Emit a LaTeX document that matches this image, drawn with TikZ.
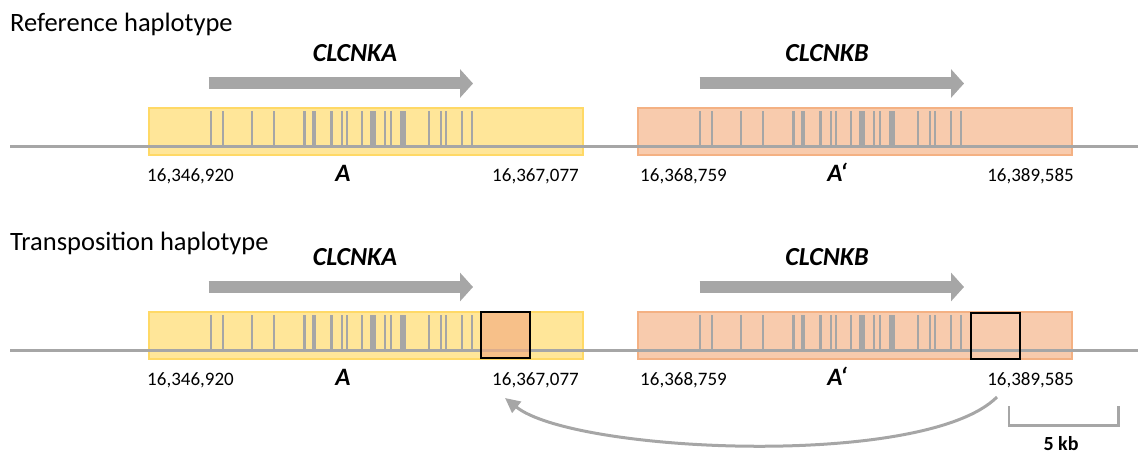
\documentclass[tikz,border=0pt]{standalone}
\usepackage{fontspec}
\setmainfont{Carlito}
\usetikzlibrary{arrows.meta}
\definecolor{geneGrey}{HTML}{A6A6A6}
\definecolor{yelFill}{HTML}{FFE699}
\definecolor{yelLine}{HTML}{FFD966}
\definecolor{orFill}{HTML}{F8CBAD}
\definecolor{orLine}{HTML}{F4B183}
\definecolor{moved}{HTML}{F4B183}
\begin{document}
\begin{tikzpicture}[x=1pt,y=-1pt,
  region/.style={line width=2pt, minimum width=434pt, minimum height=47pt,
    inner sep=0pt, anchor=north west},
  yellowregion/.style={region, draw=yelLine, fill=yelFill},
  orangeregion/.style={region, draw=orLine, fill=orFill},
  chrom/.style={draw=geneGrey, line width=3pt},
  exon/.style={fill=geneGrey},
  genearrow/.style={draw=geneGrey, line width=12pt,
    -{Triangle[length=13pt,width=28pt]}},
  segment/.style={draw=black, line width=2pt, minimum width=49pt,
    minimum height=46pt, inner sep=0pt, anchor=north west},
  coordlabel/.style={font=\fontsize{19}{21}\selectfont, anchor=base, inner sep=0pt},
  genelabel/.style={font=\fontsize{26}{28}\selectfont\bfseries\itshape, anchor=base, inner sep=0pt},
  copylabel/.style={font=\fontsize{25}{27}\selectfont\bfseries\itshape, anchor=base, inner sep=0pt},
  rowtitle/.style={font=\fontsize{26.5}{29}\selectfont, anchor=base west, inner sep=0pt},
  jump/.style={draw=geneGrey, line width=3pt, -{Triangle[length=15pt,width=14pt]}},
  scalebar/.style={draw=geneGrey, line width=2.5pt}
]
\useasboundingbox (0,0) rectangle (1140,454);

% row titles
\node[rowtitle] (refTitle) at (10,31.7) {Reference haplotype};
\node[rowtitle] (traTitle) at (10,251) {Transposition haplotype};

% both haplotypes share the same gene layout
\foreach \dy/\r in {0/ref,203.5/tra}{
  \node[yellowregion] (regA\r) at (148,{107+\dy}) {};
  \node[orangeregion] (regB\r) at (637,{107+\dy}) {};
  \draw[chrom] (10,{147+\dy}) -- (1138,{147+\dy});
  % exons of CLCNKA and CLCNKB
  \foreach \dx in {148,637}{
    \foreach \o/\w in {62.7/2,75.3/2,103.7/2,125.7/2,156/3,164.7/2,167.3/2,
                       183/3,193.7/2,198.7/2,213.7/2,224.7/6,237/2,242.7/2,
                       254.7/6,280.7/2,292.7/2,297.7/2,313.7/2,323.7/2}{
      \fill[exon] ({\dx+\o-\w/2},{111+\dy}) rectangle ({\dx+\o+\w/2},{147+\dy});
    }
  }
  % gene direction
  \draw[genearrow] (208.7,{83.5+\dy}) -- (473,{83.5+\dy});
  \draw[genearrow] (699.7,{83.5+\dy}) -- (964,{83.5+\dy});
  \node[genelabel] (nameA\r) at (355,{61.7+\dy}) {CLCNKA};
  \node[genelabel] (nameB\r) at (827,{61.7+\dy}) {CLCNKB};
  % coordinates and copy names
  \node[coordlabel] (startA\r) at (190.5,{182+\dy}) {16,346,920};
  \node[copylabel] (copyA\r) at (343,{182+\dy}) {A};
  \node[coordlabel] (endA\r) at (535.5,{182+\dy}) {16,367,077};
  \node[coordlabel] (startB\r) at (683.5,{182+\dy}) {16,368,759};
  \node[copylabel] (copyB\r) at (837,{182+\dy}) {A‘};
  \node[coordlabel] (endB\r) at (1030.5,{182+\dy}) {16,389,585};
}

% transposed segment
\node[segment, fill=moved, fill opacity=0.7] (segIn) at (480,310.7) {};
\node[segment] (segOut) at (970,312.3) {};

% transposition jump
\coordinate (jumpFrom) at (997,397);
\coordinate (jumpTo) at (505,398);
\draw[jump] (jumpFrom) .. controls (925,469) and (574,453) .. (jumpTo);

% scale bar
\coordinate (sbL) at (1009,406);
\coordinate (sbR) at (1118.3,406);
\draw[scalebar] (sbL) |- (1064,425.7) -| (sbR);
\node[font=\fontsize{20}{22}\selectfont\bfseries, anchor=base, inner sep=0pt] (sbText) at (1061,450) {5 kb};
\end{tikzpicture}
\end{document}
